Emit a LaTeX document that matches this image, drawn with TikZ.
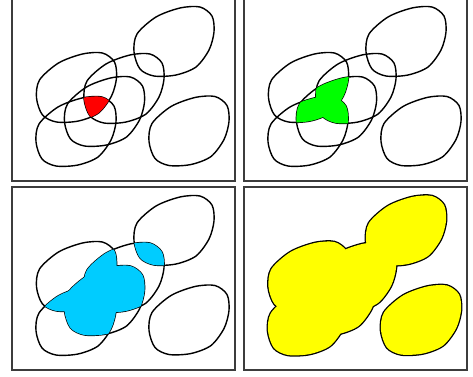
\documentclass[tikz,border=0pt]{standalone}
\usepackage{tikz}
\definecolor{framegray}{RGB}{60,60,60}
\definecolor{skyfill}{RGB}{0,204,255}
\definecolor{limefill}{RGB}{0,255,0}
\definecolor{sunfill}{RGB}{255,255,0}
\tikzset{panel/.style={draw=framegray, line width=1.6pt}}
\tikzset{outline/.style={draw=black, line width=1.4pt}}
% one blob, centred at the origin (y runs downwards)
\newcommand{\blobshape}{plot[smooth cycle] coordinates {(-40,10) (-37,-8) (-18,-25) (6,-34) (26,-35) (38,-26) (40,-10) (35,8) (22,25) (2,33) (-20,34) (-34,27)}}
\tikzset{
  blob-A/.style={shift={(162,44)}},
  blob-B/.style={shift={(177,133.5)}},
  blob-C/.style={shift={(64.5,90)}},
  blob-D/.style={shift={(64,134)}},
  blob-E/.style={shift={(112,91)}},
  blob-F/.style={shift={(92.5,114)}}
}
\begin{document}
\begin{tikzpicture}[x=1pt, y=-1pt]
  \useasboundingbox (0,0) rectangle (473,376);%
  % four-fold overlap
  \begin{scope}[shift={(12,-2)}]
    \foreach \i in {A,...,F} {\draw[outline, blob-\i] \blobshape;}
    \begin{scope}
      \clip[blob-C] \blobshape;%
      \clip[blob-D] \blobshape;%
      \clip[blob-E] \blobshape;%
      \clip[blob-F] \blobshape;%
      \fill[red] (0,0) rectangle (223,183);%
    \end{scope}
    \draw[panel] (0,0) rectangle (223,183);%
  \end{scope}
  % three-fold overlap
  \begin{scope}[shift={(244,-2)}]
    \foreach \i in {A,...,F} {\draw[outline, blob-\i] \blobshape;}
    \foreach \i/\j/\k in {C/D/E, C/D/F, C/E/F, D/E/F} {
      \begin{scope}
        \clip[blob-\i] \blobshape;%
        \clip[blob-\j] \blobshape;%
        \clip[blob-\k] \blobshape;%
        \fill[limefill] (0,0) rectangle (223,183);%
      \end{scope}
    }
    \draw[panel] (0,0) rectangle (223,183);%
  \end{scope}
  % two-fold overlap
  \begin{scope}[shift={(12,187)}]
    \foreach \i in {A,...,F} {\draw[outline, blob-\i] \blobshape;}
    \foreach \i/\j in {A/E, C/D, C/E, C/F, D/E, D/F, E/F} {
      \begin{scope}
        \clip[blob-\i] \blobshape;%
        \clip[blob-\j] \blobshape;%
        \fill[skyfill] (0,0) rectangle (223,183);%
      \end{scope}
    }
    \draw[panel] (0,0) rectangle (223,183);%
  \end{scope}
  % union
  \begin{scope}[shift={(244,187)}]
    \foreach \i in {A,...,F} {\draw[outline, line width=2.6pt, blob-\i] \blobshape;}
    \foreach \i in {A,...,F} {\fill[sunfill, blob-\i] \blobshape;}
    \draw[panel] (0,0) rectangle (223,183);%
  \end{scope}
\end{tikzpicture}
\end{document}
